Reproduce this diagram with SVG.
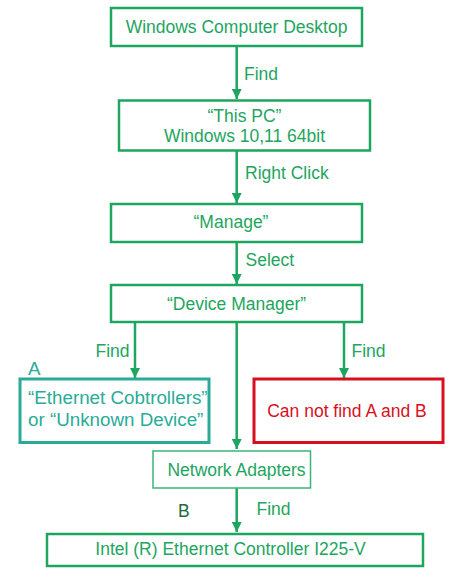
<svg xmlns="http://www.w3.org/2000/svg" width="464" height="584" viewBox="0 0 464 584">
<defs>
<style>
.box{fill:#fff;stroke:#1ea560;stroke-width:2.5}
.t{font-family:"Liberation Sans",Arial,sans-serif;font-size:17.5px;fill:#1ea560}
.c{text-anchor:middle}
.ln{stroke:#1ea560;stroke-width:2.5;fill:none}
.ta{fill:#2aab98;font-size:18.8px}
</style>
<marker id="ah" viewBox="0 0 10 10" refX="10" refY="5" markerWidth="4" markerHeight="4" orient="auto" markerUnits="strokeWidth">
<path d="M0,0 L10,5 L0,10 Z" fill="#1ea560"/>
</marker>
</defs>
<rect width="464" height="584" fill="#fff"/>
<g id="connectors">
<line class="ln" x1="236.7" y1="46" x2="236.7" y2="99" marker-end="url(#ah)"/>
<line class="ln" x1="236.7" y1="151" x2="236.7" y2="203" marker-end="url(#ah)"/>
<line class="ln" x1="236.7" y1="242" x2="236.7" y2="284" marker-end="url(#ah)"/>
<line class="ln" x1="135" y1="322" x2="135" y2="378" marker-end="url(#ah)"/>
<line class="ln" x1="344" y1="322" x2="344" y2="378" marker-end="url(#ah)"/>
<line class="ln" x1="236.7" y1="322" x2="236.7" y2="449" marker-end="url(#ah)"/>
<line class="ln" x1="236.7" y1="488" x2="236.7" y2="532" marker-end="url(#ah)"/>
<text class="t" x="244" y="80">Find</text>
<text class="t" x="245" y="179">Right Click</text>
<text class="t" x="245.5" y="266">Select</text>
<text class="t" x="95.5" y="357">Find</text>
<text class="t" x="351.5" y="357">Find</text>
<text class="t" x="256.5" y="515">Find</text>
</g>
<g id="n1">
<rect class="box" x="111" y="8" width="251" height="38"/>
<text class="t c" x="236.5" y="33">Windows Computer Desktop</text>
</g>
<g id="n2">
<rect class="box" x="119" y="100.5" width="251" height="50"/>
<text class="t c" x="244.5" y="122">“This PC”</text>
<text class="t c" x="244.5" y="142">Windows 10,11 64bit</text>
</g>
<g id="n3">
<rect class="box" x="111" y="204" width="251" height="38"/>
<text class="t c" x="231" y="228">“Manage”</text>
</g>
<g id="n4">
<rect class="box" x="111" y="285" width="251" height="37"/>
<text class="t c" x="236.5" y="310">“Device Manager”</text>
</g>
<g id="nA">
<text class="t ta" x="28" y="375">A</text>
<rect x="20" y="379" width="189" height="63.5" fill="#fff" stroke="#2aab98" stroke-width="3"/>
<text class="t ta" x="28" y="404">“Ethernet Cobtrollers”</text>
<text class="t ta" x="28" y="426">or “Unknown Device”</text>
</g>
<g id="nX">
<rect x="254" y="379" width="189" height="63.5" fill="#fff" stroke="#d8101e" stroke-width="3"/>
<text class="t c" x="347" y="417" style="fill:#d8101e">Can not find A and B</text>
</g>
<g id="n5">
<rect x="153" y="451" width="157.5" height="37" fill="#fff" stroke="#3ab57a" stroke-width="1.5"/>
<text class="t c" x="236.5" y="476">Network Adapters</text>
</g>
<g id="nB">
<text class="t" x="178" y="517" style="fill:#1b6b3a">B</text>
</g>
<g id="n6">
<rect class="box" x="47" y="534" width="376" height="32"/>
<text class="t c" x="230.5" y="555">Intel (R) Ethernet Controller I225-V</text>
</g>
</svg>
